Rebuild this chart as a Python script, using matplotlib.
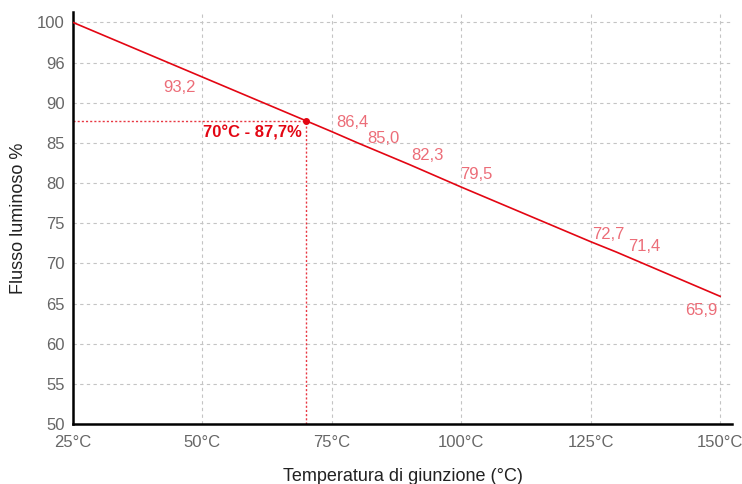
import matplotlib
matplotlib.use('Agg')
import matplotlib.pyplot as plt

# ------------------------------------------------
# Data
# ------------------------------------------------
temps = [25, 50, 75, 80, 90, 100, 125, 130, 150]
flux = [100.0, 93.2, 86.4, 85.0, 82.3, 79.5, 72.7, 71.4, 65.9]
labels = ['', '93,2', '86,4', '85,0', '82,3', '79,5', '72,7', '71,4', '65,9']

hl_temp = 70
hl_flux = 87.7
hl_text = '70°C - 87,7%'

xticks = [25, 50, 75, 100, 125, 150]
xticklabels = ['25°C', '50°C', '75°C', '100°C', '125°C', '150°C']
yticks = [50, 55, 60, 65, 70, 75, 80, 85, 90, 95, 100]
yticklabels = ['50', '55', '60', '65', '70', '75', '80', '85', '90', '96', '100']

# label offsets (points) and alignment
offs = {'93,2': (-5, -2, 'right', 'top'),
        '86,4': (3, 1, 'left', 'bottom'),
        '85,0': (7, -2, 'left', 'bottom'),
        '82,3': (1, 1, 'left', 'bottom'),
        '79,5': (-1, 4, 'left', 'bottom'),
        '72,7': (1, 0, 'left', 'bottom'),
        '71,4': (8, -1, 'left', 'bottom'),
        '65,9': (-2, -5, 'right', 'top')}

RED = '#e30613'
LRED = '#ec6d78'
GRAY = '#666666'

plt.rcParams['font.family'] = ['Liberation Sans', 'DejaVu Sans']

fig = plt.figure(figsize=(7.42, 4.84), dpi=100)
ax = fig.add_axes([73/742, 60/484, 659/742, 412/484])

ax.plot(temps, flux, color=RED, lw=1.2, zorder=3)

# highlighted point
ax.plot([25, hl_temp], [hl_flux, hl_flux], color=RED, lw=1, ls=(0, (1.5, 1.5)), alpha=0.8, zorder=2)
ax.plot([hl_temp, hl_temp], [50, hl_flux], color=RED, lw=1, ls=(0, (1.5, 1.5)), alpha=0.8, zorder=2)
ax.plot([hl_temp], [hl_flux], 'o', color=RED, ms=4, zorder=4)
ax.annotate(hl_text, (hl_temp, hl_flux), xytext=(-3, -3), textcoords='offset points',
            ha='right', va='top', color=RED, fontsize=12, fontweight='bold')

for t, f, l in zip(temps, flux, labels):
    if l == '':
        continue
    dx, dy, ha, va = offs[l]
    ax.annotate(l, (t, f), xytext=(dx, dy), textcoords='offset points',
                ha=ha, va=va, color=LRED, fontsize=12)

ax.set_xlim(25, 152.3)
ax.set_ylim(50, 101.3)
ax.set_xticks(xticks)
ax.set_xticklabels(xticklabels)
ax.set_yticks(yticks)
ax.set_yticklabels(yticklabels)
ax.tick_params(length=0, labelsize=12, labelcolor=GRAY)
ax.tick_params(axis='y', pad=6)
ax.tick_params(axis='x', pad=8)

ax.grid(True, color='#c4c4c4', ls=(0, (3, 3)), lw=0.8, zorder=0)
ax.set_axisbelow(True)

for s in ['top', 'right']:
    ax.spines[s].set_visible(False)
for s in ['left', 'bottom']:
    ax.spines[s].set_linewidth(1.8)
    ax.spines[s].set_color('black')

ax.set_xlabel('Temperatura di giunzione (°C)', fontsize=13, color='#222222', labelpad=13)
ax.set_ylabel('Flusso luminoso %', fontsize=13, color='#222222', labelpad=7)

fig.savefig('out.png', dpi=100)
